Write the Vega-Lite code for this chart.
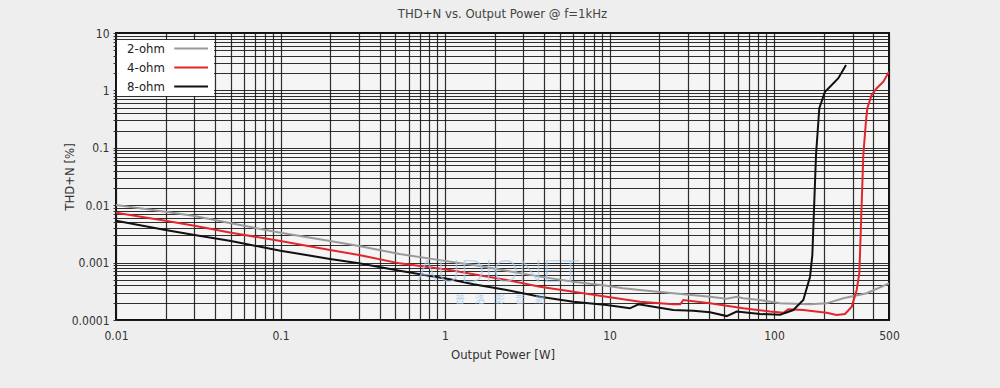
{
  "$schema": "https://vega.github.io/schema/vega-lite/v6.json",
  "autosize": "none",
  "padding": {"left": 116, "top": 33, "right": 111, "bottom": 68},
  "width": 773,
  "height": 287,
  "background": "#eeeeee",
  "title": {
    "text": "THD+N vs. Output Power @ f=1kHz",
    "fontSize": 13,
    "font": "DejaVu Sans Condensed, Roboto, sans-serif",
    "fontWeight": "normal",
    "color": "#444444",
    "anchor": "middle",
    "offset": 6
  },
  "config": {
    "view": {"fill": "#f5f5f5", "stroke": "#111111", "strokeWidth": 2},
    "font": "DejaVu Sans Condensed, Roboto, sans-serif",
    "axis": {
      "gridColor": "#1a1a1a",
      "gridWidth": 1.2,
      "gridOpacity": 0.9,
      "domain": false,
      "labelFontSize": 12,
      "labelColor": "#333333",
      "titleFontSize": 13,
      "titleColor": "#333333",
      "titleFontWeight": "normal",
      "tickColor": "#333333",
      "tickSize": 3
    }
  },
  "datasets": {
    "curves": [
      {"s": "2-ohm", "w": 0.01, "t": 0.0101},
      {"s": "2-ohm", "w": 0.02, "t": 0.0077},
      {"s": "2-ohm", "w": 0.03, "t": 0.0065},
      {"s": "2-ohm", "w": 0.05, "t": 0.00484},
      {"s": "2-ohm", "w": 0.1, "t": 0.00332},
      {"s": "2-ohm", "w": 0.2, "t": 0.00238},
      {"s": "2-ohm", "w": 0.3, "t": 0.00195},
      {"s": "2-ohm", "w": 0.53, "t": 0.00141},
      {"s": "2-ohm", "w": 1.07, "t": 0.00104},
      {"s": "2-ohm", "w": 1.49, "t": 0.000908},
      {"s": "2-ohm", "w": 2.37, "t": 0.00072},
      {"s": "2-ohm", "w": 3.78, "t": 0.00057},
      {"s": "2-ohm", "w": 6.03, "t": 0.000465},
      {"s": "2-ohm", "w": 9.61, "t": 0.000396},
      {"s": "2-ohm", "w": 12.1, "t": 0.000357},
      {"s": "2-ohm", "w": 15.3, "t": 0.000333},
      {"s": "2-ohm", "w": 24.4, "t": 0.000292},
      {"s": "2-ohm", "w": 40.8, "t": 0.000255},
      {"s": "2-ohm", "w": 51.6, "t": 0.000235},
      {"s": "2-ohm", "w": 59.3, "t": 0.000255},
      {"s": "2-ohm", "w": 65, "t": 0.00024},
      {"s": "2-ohm", "w": 82, "t": 0.000223},
      {"s": "2-ohm", "w": 108.8, "t": 0.000195},
      {"s": "2-ohm", "w": 165.6, "t": 0.000189},
      {"s": "2-ohm", "w": 209, "t": 0.000195},
      {"s": "2-ohm", "w": 264, "t": 0.000239},
      {"s": "2-ohm", "w": 366, "t": 0.000292},
      {"s": "2-ohm", "w": 500, "t": 0.000436},
      {"s": "4-ohm", "w": 0.01, "t": 0.0074},
      {"s": "4-ohm", "w": 0.02, "t": 0.00537},
      {"s": "4-ohm", "w": 0.03, "t": 0.0044},
      {"s": "4-ohm", "w": 0.05, "t": 0.00332},
      {"s": "4-ohm", "w": 0.1, "t": 0.00238},
      {"s": "4-ohm", "w": 0.2, "t": 0.00166},
      {"s": "4-ohm", "w": 0.3, "t": 0.00136},
      {"s": "4-ohm", "w": 0.53, "t": 0.00097},
      {"s": "4-ohm", "w": 1.07, "t": 0.00074},
      {"s": "4-ohm", "w": 1.49, "t": 0.000626},
      {"s": "4-ohm", "w": 2.37, "t": 0.000498},
      {"s": "4-ohm", "w": 3.78, "t": 0.00038},
      {"s": "4-ohm", "w": 6.03, "t": 0.000311},
      {"s": "4-ohm", "w": 9.61, "t": 0.000255},
      {"s": "4-ohm", "w": 15.3, "t": 0.000208},
      {"s": "4-ohm", "w": 24.4, "t": 0.000188},
      {"s": "4-ohm", "w": 26.9, "t": 0.000188},
      {"s": "4-ohm", "w": 28.1, "t": 0.000223},
      {"s": "4-ohm", "w": 40.8, "t": 0.000195},
      {"s": "4-ohm", "w": 65, "t": 0.00016},
      {"s": "4-ohm", "w": 94.6, "t": 0.00014},
      {"s": "4-ohm", "w": 114, "t": 0.000134},
      {"s": "4-ohm", "w": 122, "t": 0.000154},
      {"s": "4-ohm", "w": 150.7, "t": 0.000149},
      {"s": "4-ohm", "w": 209, "t": 0.000134},
      {"s": "4-ohm", "w": 240, "t": 0.000122},
      {"s": "4-ohm", "w": 270, "t": 0.000127},
      {"s": "4-ohm", "w": 297, "t": 0.000171},
      {"s": "4-ohm", "w": 318, "t": 0.000333},
      {"s": "4-ohm", "w": 330, "t": 0.00065},
      {"s": "4-ohm", "w": 333, "t": 0.00136},
      {"s": "4-ohm", "w": 349, "t": 0.075},
      {"s": "4-ohm", "w": 362, "t": 0.285},
      {"s": "4-ohm", "w": 369, "t": 0.488},
      {"s": "4-ohm", "w": 392, "t": 0.83},
      {"s": "4-ohm", "w": 421, "t": 1.09},
      {"s": "4-ohm", "w": 462, "t": 1.42},
      {"s": "4-ohm", "w": 500, "t": 2.12},
      {"s": "8-ohm", "w": 0.01, "t": 0.00537},
      {"s": "8-ohm", "w": 0.02, "t": 0.0037},
      {"s": "8-ohm", "w": 0.03, "t": 0.00303},
      {"s": "8-ohm", "w": 0.05, "t": 0.00238},
      {"s": "8-ohm", "w": 0.1, "t": 0.00161},
      {"s": "8-ohm", "w": 0.2, "t": 0.00116},
      {"s": "8-ohm", "w": 0.3, "t": 0.000973},
      {"s": "8-ohm", "w": 0.53, "t": 0.000723},
      {"s": "8-ohm", "w": 1.07, "t": 0.000512},
      {"s": "8-ohm", "w": 1.49, "t": 0.000419},
      {"s": "8-ohm", "w": 2.37, "t": 0.000333},
      {"s": "8-ohm", "w": 3.78, "t": 0.000255},
      {"s": "8-ohm", "w": 6.03, "t": 0.000208},
      {"s": "8-ohm", "w": 9.61, "t": 0.000182},
      {"s": "8-ohm", "w": 13.3, "t": 0.00016},
      {"s": "8-ohm", "w": 15.0, "t": 0.000188},
      {"s": "8-ohm", "w": 24.4, "t": 0.000149},
      {"s": "8-ohm", "w": 32.3, "t": 0.000145},
      {"s": "8-ohm", "w": 40.8, "t": 0.000136},
      {"s": "8-ohm", "w": 51.6, "t": 0.000117},
      {"s": "8-ohm", "w": 59.3, "t": 0.00014},
      {"s": "8-ohm", "w": 82.2, "t": 0.000127},
      {"s": "8-ohm", "w": 108.8, "t": 0.000124},
      {"s": "8-ohm", "w": 131, "t": 0.000149},
      {"s": "8-ohm", "w": 150.7, "t": 0.000223},
      {"s": "8-ohm", "w": 165.6, "t": 0.000568},
      {"s": "8-ohm", "w": 171, "t": 0.00136},
      {"s": "8-ohm", "w": 180, "t": 0.075},
      {"s": "8-ohm", "w": 188.5, "t": 0.488},
      {"s": "8-ohm", "w": 204, "t": 0.95},
      {"s": "8-ohm", "w": 219, "t": 1.16},
      {"s": "8-ohm", "w": 246, "t": 1.63},
      {"s": "8-ohm", "w": 274, "t": 2.77}
    ]
  },
  "layer": [
    {
      "data": {"name": "curves"},
      "mark": {"type": "line", "strokeWidth": 2, "clip": true},
      "encoding": {
        "x": {
          "field": "w",
          "type": "quantitative",
          "scale": {"type": "log", "domain": [0.01, 500], "nice": false},
          "axis": {
            "title": "Output Power [W]",
            "values": [0.01, 0.02, 0.03, 0.04, 0.05, 0.06, 0.07, 0.08, 0.09, 0.1, 0.2, 0.3, 0.4, 0.5, 0.6, 0.7, 0.8, 0.9, 1, 2, 3, 4, 5, 6, 7, 8, 9, 10, 20, 30, 40, 50, 60, 70, 80, 90, 100, 200, 300, 400, 500],
            "labelExpr": "indexof([0.01, 0.1, 1, 10, 100, 500], datum.value) >= 0 ? format(datum.value, '~g') : ''",
            "ticks": false,
            "labelPadding": 10,
            "titlePadding": 7,
            "labelFlush": false
          }
        },
        "y": {
          "field": "t",
          "type": "quantitative",
          "scale": {"type": "log", "domain": [0.0001, 10], "nice": false},
          "axis": {
            "title": "THD+N [%]",
            "values": [0.0001, 0.0002, 0.0003, 0.0004, 0.0005, 0.0006, 0.0007, 0.0008, 0.0009, 0.001, 0.002, 0.003, 0.004, 0.005, 0.006, 0.007, 0.008, 0.009, 0.01, 0.02, 0.03, 0.04, 0.05, 0.06, 0.07, 0.08, 0.09, 0.1, 0.2, 0.3, 0.4, 0.5, 0.6, 0.7, 0.8, 0.9, 1, 2, 3, 4, 5, 6, 7, 8, 9, 10],
            "labelExpr": "indexof([0.0001, 0.001, 0.01, 0.1, 1, 10], datum.value) >= 0 ? format(datum.value, '~g') : ''",
            "labelPadding": 4,
            "titlePadding": -5,
            "labelFlush": false
          }
        },
        "color": {
          "field": "s",
          "type": "nominal",
          "scale": {"domain": ["2-ohm", "4-ohm", "8-ohm"], "range": ["#9a9a9a", "#e3262b", "#111111"]},
          "legend": {
            "title": null,
            "orient": "none",
            "legendX": 1,
            "legendY": 7,
            "fillColor": "#ffffff",
            "padding": 2,
            "symbolType": "M9.75,0L16.5,0",
            "symbolSize": 100,
            "symbolStrokeWidth": 2,
            "rowPadding": 5,
            "labelOffset": -5,
            "labelFontSize": 13,
            "labelColor": "#222222"
          }
        }
      }
    },
    {
      "data": {"values": [{}]},
      "mark": {"type": "text", "font": "Lato", "fontSize": 32, "fontWeight": 300, "color": "#a9cbeb", "opacity": 0.7, "align": "center", "baseline": "middle"},
      "encoding": {
        "x": {"datum": 2.1, "type": "quantitative"},
        "y": {"datum": 0.00069, "type": "quantitative"},
        "text": {"value": "AUDIONET"}
      }
    },
    {
      "data": {"values": [{}]},
      "mark": {"type": "text", "font": "Noto Sans CJK TC", "fontSize": 10, "color": "#a9cbeb", "opacity": 0.8, "align": "center", "baseline": "middle"},
      "encoding": {
        "x": {"datum": 2.16, "type": "quantitative"},
        "y": {"datum": 0.00022, "type": "quantitative"},
        "text": {"value": "普　洛　影　音　網"}
      }
    }
  ]
}
